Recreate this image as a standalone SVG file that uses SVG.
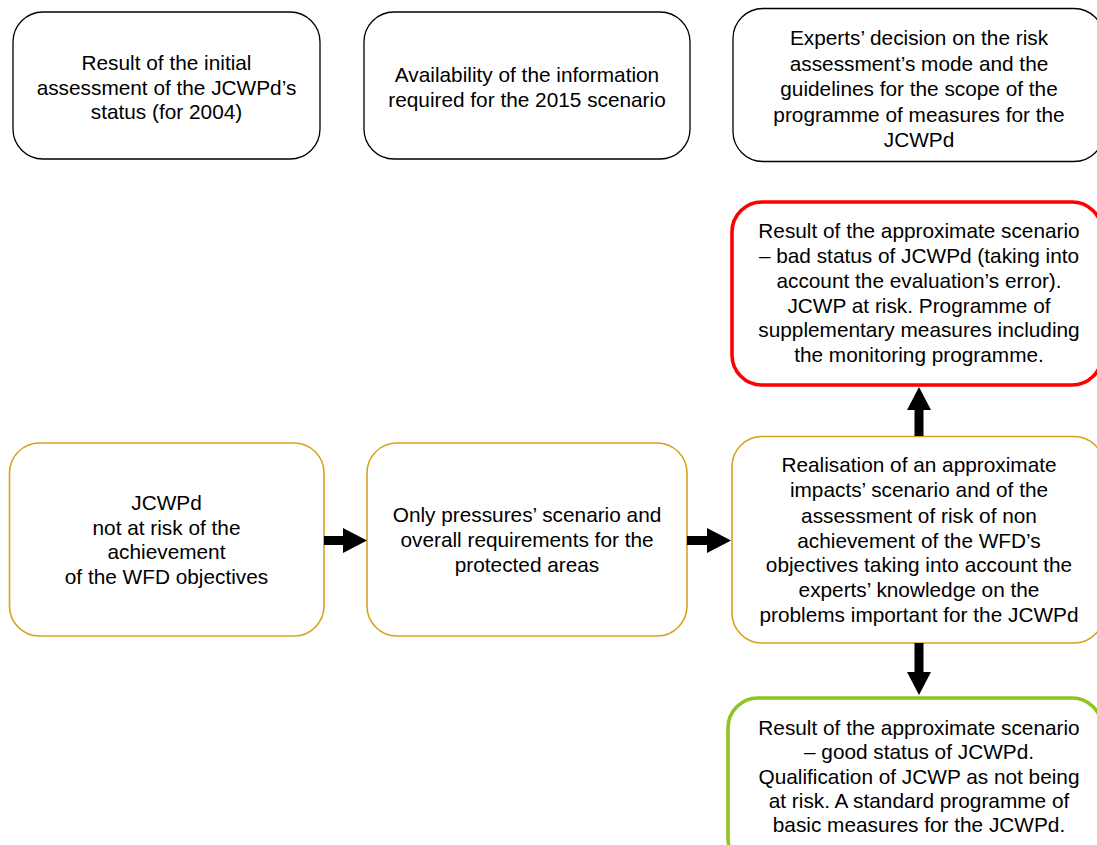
<svg xmlns="http://www.w3.org/2000/svg" width="1097" height="845" viewBox="0 0 1097 845">
  <style>
    .box { fill: #ffffff; }
    .plain { stroke: #000000; stroke-width: 1.3; }
    .amber { stroke: #D6A21E; stroke-width: 1.6; }
    .red { stroke: #FF0000; stroke-width: 3.6; }
    .green { stroke: #8DC420; stroke-width: 3.6; }
    text { font-family: "Liberation Sans", Arial, sans-serif; font-size: 20.8px; fill: #000000; text-anchor: middle; }
    .arrow { fill: #000000; }
  </style>
  <rect width="1097" height="845" fill="#ffffff"/>

  <!-- top row: inputs -->
  <g id="initial-assessment">
    <rect class="box plain" x="13" y="12" width="307" height="147" rx="30" ry="30"/>
    <text x="166.5" y="70">Result of the initial</text>
    <text x="166.5" y="94.5">assessment of the JCWPd’s</text>
    <text x="166.5" y="119">status (for 2004)</text>
  </g>

  <g id="information-availability">
    <rect class="box plain" x="364" y="12" width="326" height="147" rx="30" ry="30"/>
    <text x="527" y="82">Availability of the information</text>
    <text x="527" y="107">required for the 2015 scenario</text>
  </g>

  <g id="experts-decision">
    <rect class="box plain" x="733" y="8.5" width="371" height="153" rx="30" ry="30"/>
    <text x="919" y="45">Experts’ decision on the risk</text>
    <text x="919" y="70.5">assessment’s mode and the</text>
    <text x="919" y="96">guidelines for the scope of the</text>
    <text x="919" y="121.5">programme of measures for the</text>
    <text x="919" y="147">JCWPd</text>
  </g>

  <!-- outcome: at risk -->
  <g id="bad-status">
    <rect class="box red" x="732" y="202" width="370" height="183" rx="30" ry="30"/>
    <text x="919" y="238">Result of the approximate scenario</text>
    <text x="919" y="263">– bad status of JCWPd (taking into</text>
    <text x="919" y="288">account the evaluation’s error).</text>
    <text x="919" y="312.5">JCWP at risk. Programme of</text>
    <text x="919" y="337">supplementary measures including</text>
    <text x="919" y="362">the monitoring programme.</text>
  </g>

  <!-- middle row: process -->
  <g id="not-at-risk">
    <rect class="box amber" x="9.5" y="443" width="314.5" height="193" rx="30" ry="30"/>
    <text x="166.5" y="510">JCWPd</text>
    <text x="166.5" y="534.5">not at risk of the</text>
    <text x="166.5" y="559">achievement</text>
    <text x="166.5" y="584">of the WFD objectives</text>
  </g>

  <g id="pressures-scenario">
    <rect class="box amber" x="367" y="443" width="320" height="193" rx="30" ry="30"/>
    <text x="527" y="522">Only pressures’ scenario and</text>
    <text x="527" y="547">overall requirements for the</text>
    <text x="527" y="572">protected areas</text>
  </g>

  <g id="impacts-scenario">
    <rect class="box amber" x="732" y="436.5" width="372" height="206.5" rx="30" ry="30"/>
    <text x="919" y="472">Realisation of an approximate</text>
    <text x="919" y="497">impacts’ scenario and of the</text>
    <text x="919" y="522.5">assessment of risk of non</text>
    <text x="919" y="547.5">achievement of the WFD’s</text>
    <text x="919" y="572">objectives taking into account the</text>
    <text x="919" y="597">experts’ knowledge on the</text>
    <text x="919" y="622">problems important for the JCWPd</text>
  </g>

  <!-- outcome: good status -->
  <g id="good-status">
    <rect class="box green" x="728" y="698" width="374" height="170" rx="30" ry="30"/>
    <text x="919" y="735">Result of the approximate scenario</text>
    <text x="919" y="759">– good status of JCWPd.</text>
    <text x="919" y="783.5">Qualification of JCWP as not being</text>
    <text x="919" y="808">at risk. A standard programme of</text>
    <text x="919" y="832">basic measures for the JCWPd.</text>
  </g>

  <!-- block arrows between steps -->
  <g id="connectors">
    <polygon class="arrow" points="324,536 343,536 343,528 367,540.5 343,553 343,545 324,545"/>
    <polygon class="arrow" points="687,536 707,536 707,528 731,540.5 707,553 707,545 687,545"/>
    <polygon class="arrow" points="914.5,436 914.5,410 907,410 919,387 931,410 923.5,410 923.5,436"/>
    <polygon class="arrow" points="914.5,643 914.5,672 907,672 919,695 931,672 923.5,672 923.5,643"/>
  </g>
</svg>
